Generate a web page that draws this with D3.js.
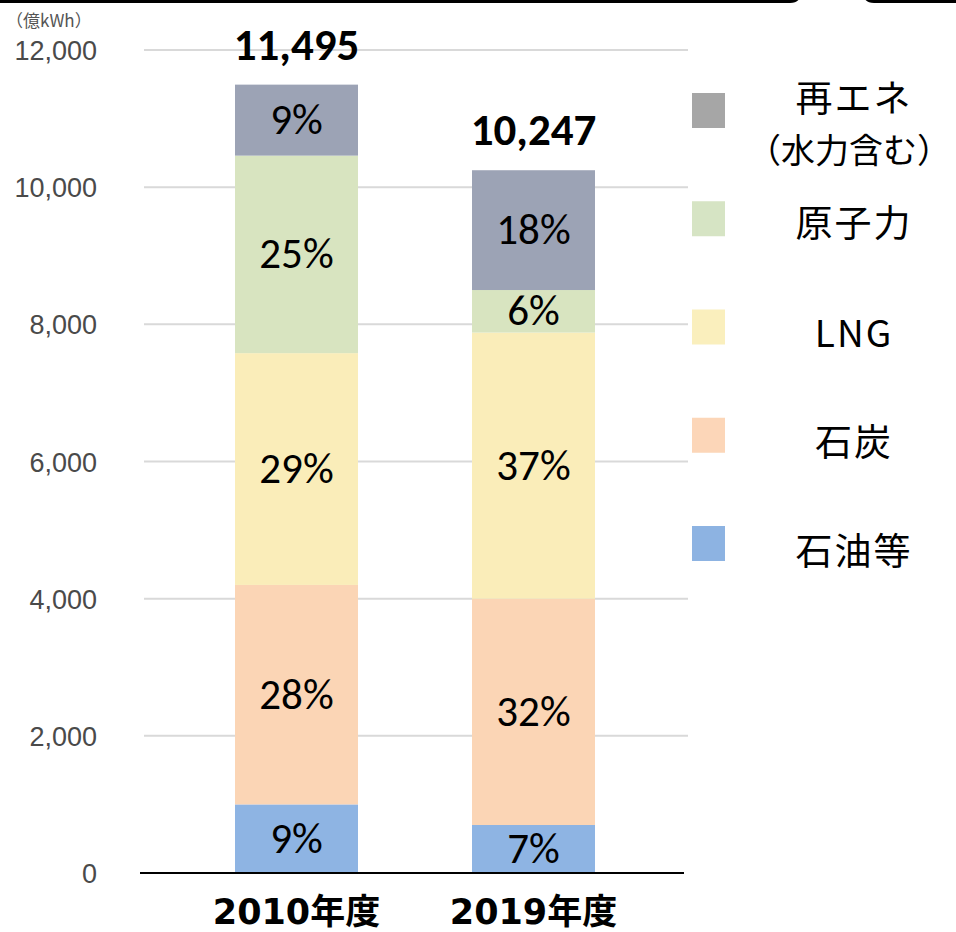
<!DOCTYPE html>
<html>
<head>
<meta charset="utf-8">
<script src="https://cdn.jsdelivr.net/npm/d3@7"></script>
<style>
  html, body { margin: 0; padding: 0; background: #fff; }
  svg { display: block; }
</style>
</head>
<body>
<svg id="chart" width="956" height="932"></svg>
<script>
// Power generation mix, 2010 vs 2019 (億kWh), stacked bottom to top
const years = ['2010年度', '2019年度'];
const sources = ['石油等', '石炭', 'LNG', '原子力', '再エネ'];
const values2010 = [1000, 3200, 3380, 2880, 1035];
const values2019 = [700, 3300, 3880, 620, 1747];
const pct2010 = ['9%', '28%', '29%', '25%', '9%'];
const pct2019 = ['7%', '32%', '37%', '6%', '18%'];
const totals = ['11,495', '10,247'];
const yTicks = [0, 2000, 4000, 6000, 8000, 10000, 12000];
const legendKeys = ['再エネ', '原子力', 'LNG', '石炭', '石油等'];
const legendLabels = [['再エネ', '（水力含む）'], ['原子力'], ['LNG'], ['石炭'], ['石油等']];

const barColor = {
  '石油等': '#8eb4e3', '石炭': '#fbd5b5', 'LNG': '#faedb9',
  '原子力': '#d8e4c0', '再エネ': '#9ca3b5'
};
const legendColor = {
  '再エネ': '#a6a6a6', '原子力': '#d6e4c4', 'LNG': '#faefbd',
  '石炭': '#fcd6b8', '石油等': '#8db3e2'
};

const svg = d3.select('#chart');

const y = d3.scaleLinear().domain([0, 12000]).range([873, 50]);
const x = d3.scaleBand().domain(years).range([235, 595]).paddingInner(0.481).paddingOuter(0);

// Leftover frame edges at the very top of the picture
svg.append('path')
  .attr('d', 'M0,1.5 H790 Q796,1.5 798,-2')
  .attr('fill', 'none').attr('stroke', '#000').attr('stroke-width', 3);
svg.append('path')
  .attr('d', 'M866,-2 Q868,1.5 874,1.5 H956')
  .attr('fill', 'none').attr('stroke', '#000').attr('stroke-width', 3);

// Gridlines
svg.append('g')
  .selectAll('line')
  .data(yTicks.filter(d => d > 0))
  .join('line')
  .attr('x1', 144).attr('x2', 688)
  .attr('y1', d => y(d)).attr('y2', d => y(d))
  .attr('stroke', '#d9d9d9').attr('stroke-width', 2);

// Y tick labels
svg.append('g')
  .selectAll('text')
  .data(yTicks)
  .join('text')
  .attr('x', 97)
  .attr('y', d => y(d) + 10)
  .attr('text-anchor', 'end')
  .attr('font-family', 'Liberation Sans, Arial, sans-serif')
  .attr('font-size', 27)
  .attr('fill', '#4a4a4a')
  .text(d => d3.format(',')(d));

svg.append('text')
  .attr('x', 6).attr('y', 27)
  .attr('font-family', 'Noto Sans CJK JP, sans-serif')
  .attr('font-size', 17)
  .attr('fill', '#555')
  .text('（億kWh）');

// Stacked bars
const rows = years.map((yr, i) => {
  const vals = i === 0 ? values2010 : values2019;
  const row = { year: yr };
  sources.forEach((s, j) => row[s] = vals[j]);
  return row;
});
const stack = d3.stack().keys(sources)(rows);
const pcts = [pct2010, pct2019];

const layers = svg.append('g')
  .selectAll('g')
  .data(stack)
  .join('g')
  .attr('fill', d => barColor[d.key]);

layers.selectAll('rect')
  .data(d => d)
  .join('rect')
  .attr('x', d => x(d.data.year))
  .attr('width', x.bandwidth())
  .attr('y', d => y(d[1]))
  .attr('height', d => y(d[0]) - y(d[1]));

// Percent labels
stack.forEach((layer, j) => {
  layer.forEach((d, i) => {
    svg.append('text')
      .attr('x', x(d.data.year) + x.bandwidth() / 2)
      .attr('y', (y(d[0]) + y(d[1])) / 2 + 14)
      .attr('text-anchor', 'middle')
      .attr('font-family', 'Carlito, Lato, sans-serif')
      .attr('font-size', 43)
      .attr('fill', '#000')
      .text(pcts[i][j]);
  });
});

// Totals above bars
svg.append('g')
  .selectAll('text')
  .data(rows)
  .join('text')
  .attr('x', d => x(d.year) + x.bandwidth() / 2)
  .attr('y', d => y(d3.sum(sources, s => d[s])) - 25)
  .attr('text-anchor', 'middle')
  .attr('font-family', 'Carlito, Lato, sans-serif')
  .attr('font-weight', 'bold')
  .attr('font-size', 45)
  .attr('fill', '#000')
  .text((d, i) => totals[i]);

// Baseline
svg.append('line')
  .attr('x1', 140).attr('x2', 684)
  .attr('y1', y(0)).attr('y2', y(0))
  .attr('stroke', '#000').attr('stroke-width', 2);

// X labels
svg.append('g')
  .selectAll('text')
  .data(years)
  .join('text')
  .attr('x', d => x(d) + x.bandwidth() / 2)
  .attr('y', 924)
  .attr('text-anchor', 'middle')
  .attr('font-family', 'DejaVu Sans, Noto Sans CJK JP, sans-serif')
  .attr('font-weight', 'bold')
  .attr('font-size', 35)
  .attr('fill', '#000')
  .text(d => d);

// Legend
const legendY = d3.scalePoint().domain(legendKeys).range([110, 543]);
const lg = svg.append('g');
lg.selectAll('rect')
  .data(legendKeys)
  .join('rect')
  .attr('x', 692)
  .attr('y', d => legendY(d) - 17)
  .attr('width', 33).attr('height', 35)
  .attr('fill', d => legendColor[d]);

legendKeys.forEach((k, i) => {
  const lines = legendLabels[i];
  const t = lg.append('text')
    .attr('text-anchor', 'middle')
    .attr('font-family', 'Noto Sans CJK JP, sans-serif')
    .attr('font-size', 37)
    .attr('letter-spacing', 2)
    .attr('fill', '#000');
  if (lines.length === 2) {
    t.append('tspan').attr('x', 854).attr('y', legendY(k) + 2).text(lines[0]);
    t.append('tspan').attr('x', 849).attr('y', legendY(k) + 53)
      .attr('letter-spacing', 0).attr('font-size', 34).text(lines[1]);
  } else {
    t.attr('x', 854).attr('y', legendY(k) + 18 + i).text(lines[0]);
  }
});
</script>
</body>
</html>
